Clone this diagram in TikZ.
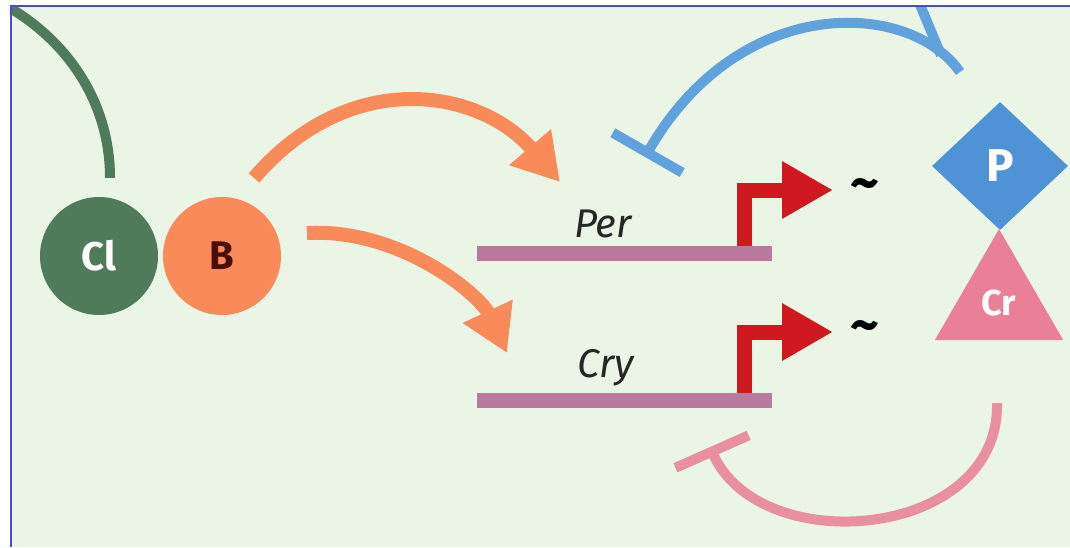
\documentclass[tikz,border=0pt]{standalone}
\usepackage{fontspec}
\setmainfont{Fira Sans}
\usetikzlibrary{arrows.meta,shapes.geometric,calc}

\definecolor{bgreen}{HTML}{EAF5E6}
\definecolor{framec}{HTML}{4B4BC4}
\definecolor{clgreen}{HTML}{4F7B5A}
\definecolor{borange}{HTML}{F98B5B}
\definecolor{btext}{HTML}{4A0E05}
\definecolor{pblue}{HTML}{4F93D6}
\definecolor{arcblue}{HTML}{62A2DC}
\definecolor{crpink}{HTML}{EA7F98}
\definecolor{arcpink}{HTML}{E88FA0}
\definecolor{genebar}{HTML}{B97A9F}
\definecolor{promred}{HTML}{D01820}

\tikzset{
  protein/.style={circle, minimum size=118pt, inner sep=0pt,
    font=\fontsize{40}{40}\selectfont\bfseries},
  genebox/.style={rectangle, fill=genebar, minimum width=295pt,
    minimum height=15pt, inner sep=0pt},
  genelabel/.style={inner sep=0pt, text=black!85,
    font=\fontsize{40}{40}\selectfont\itshape},
  promoter/.style={draw=promred, line width=15pt,
    -{Triangle[length=51pt,width=54pt]}},
  tildemark/.style={inner sep=0pt, font=\fontsize{56}{56}\selectfont\bfseries},
  activ/.style={draw=borange, line width=14pt,
    -{Triangle[length=46pt,width=52pt]}},
  repress/.style={line width=10pt, -{Bar[width=80pt]}},
}

\begin{document}
\begin{tikzpicture}[x=1pt,y=-1pt]
\useasboundingbox (0,0) rectangle (1070,547);
\fill[white] (0,0) rectangle (1070,547);
\fill[bgreen] (11,6) rectangle (1070,547);

\begin{scope}
\clip (11,6) rectangle (1070,547);

% feedback arcs (drawn first, behind the proteins)
\coordinate (pOut) at (960,72);
\coordinate (pEnd) at (645,157);
\draw[repress, draw=arcblue] (pOut) .. controls (910,0) and (740,-8) .. (pEnd);
\draw[draw=arcblue, line width=10pt] (918,0) -- (941,55);

\coordinate (crOut) at (997,403);
\coordinate (crEnd) at (710,447);
\draw[repress, draw=arcpink] (crOut) .. controls (1000,540) and (760,560) .. (crEnd);

% Clock / Bmal1 complex
\node[protein, fill=clgreen, text=white] (cl) at (99,256) {Cl};
\node[protein, fill=borange, text=btext] (b) at (222,256) {B};
\draw[draw=clgreen, line width=10pt]
  ($(cl.north)+(11,-19)$) .. controls (110,110) and (75,45) .. (5,5);

% genes
\node[genelabel, anchor=base] (perlabel) at (603,237) {Per};
\node[genelabel, anchor=base] (crylabel) at (606,377) {Cry};

% transcription start arrows, under the gene bars
\node[tildemark] (pertil) at (865,190) {\textasciitilde};
\node[tildemark] (crytil) at (865,332) {\textasciitilde};
\coordinate (perstem) at (744.5,246);
\coordinate (crystem) at (744.5,393);
\draw[promoter] (perstem) |- ([xshift=-32pt]pertil.center);
\draw[promoter] (crystem) |- ([xshift=-32pt]crytil.center);
\node[genebox] (perbar) at (624.5,253) {};
\node[genebox] (crybar) at (624.5,400) {};

% activation by the complex
\coordinate (pertarget) at (560,182);
\coordinate (crytarget) at (507,353);
\draw[activ] ($(b.center)+(32,-78)$) .. controls (350,66) and (480,89) .. (pertarget);
\draw[activ] ($(b.center)+(85,-23)$) .. controls (400,228) and (480,295) .. (crytarget);

% protein products
\node[diamond, fill=pblue, text=white, minimum width=136pt, minimum height=128pt,
  inner sep=0pt, font=\fontsize{46}{46}\selectfont\bfseries] (p) at (1000,166) {P};
\node[regular polygon, regular polygon sides=3, fill=crpink, text=white,
  minimum size=148pt, inner sep=0pt, font=\fontsize{36}{36}\selectfont\bfseries]
  (cr) at (999,303) {Cr};
\end{scope}

\draw[framec, line width=2.5pt] (1070,6) -- (11,6) -- (11,547);
\end{tikzpicture}
\end{document}
